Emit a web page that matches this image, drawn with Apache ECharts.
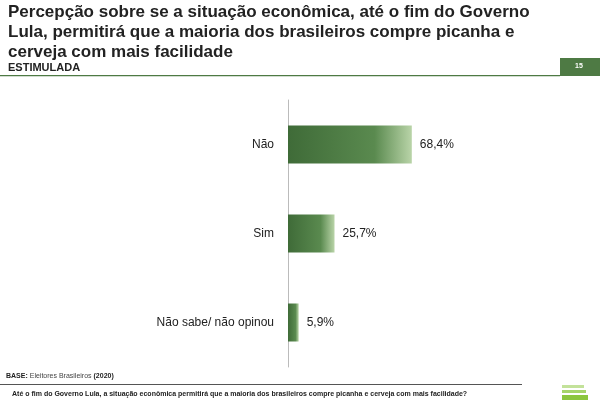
<!DOCTYPE html>
<html><head><meta charset="utf-8">
<script src="https://cdn.jsdelivr.net/npm/echarts@6/dist/echarts.min.js"></script>
<style>html,body{margin:0;padding:0;background:#fff}#c{width:600px;height:400px}</style>
</head><body><div id="c"></div>
<script>
const categories = ['Não sabe/ não opinou', 'Sim', 'Não'];
const values = [5.9, 25.7, 68.4];
const labels = ['5,9%', '25,7%', '68,4%'];
const chart = echarts.init(document.getElementById('c'));
const F = 'Liberation Sans, Arial, sans-serif';
chart.setOption({
  animation: false,
  grid: { left: 288, right: 131, top: 100, bottom: 33 },
  xAxis: { type: 'value', min: 0, max: 100, show: false },
  yAxis: { type: 'category', data: categories,
    axisLine: { lineStyle: { color: '#bbb' } }, axisTick: { show: false },
    axisLabel: { color: '#222', fontSize: 12, fontFamily: F, margin: 14 } },
  series: [{ type: 'bar', data: values, barWidth: 38,
    itemStyle: { color: new echarts.graphic.LinearGradient(0, 0, 1, 0, [
      { offset: 0, color: '#3f6b38' }, { offset: 0.7, color: '#5a8a4f' }, { offset: 1, color: '#b9d4a8' }]) },
    label: { show: true, position: 'right', color: '#222', fontSize: 12, fontFamily: F, distance: 8,
      formatter: p => labels[p.dataIndex] } }],
  graphic: [
    { type: 'text', left: 8, top: 2, style: { text: 'Percepção sobre se a situação econômica, até o fim do Governo\nLula, permitirá que a maioria dos brasileiros compre picanha e\ncerveja com mais facilidade', font: 'bold 17px ' + F, fill: '#222', lineHeight: 20 } },
    { type: 'text', left: 8, top: 62, style: { text: 'ESTIMULADA', font: 'bold 11px ' + F, fill: '#222' } },
    { type: 'rect', shape: { x: 0, y: 75, width: 560, height: 1.2 }, style: { fill: '#4e7a44' } },
    { type: 'rect', shape: { x: 560, y: 58, width: 40, height: 18 }, style: { fill: '#4e7a44' } },
    { type: 'text', left: 575, top: 63, style: { text: '15', font: 'bold 7px ' + F, fill: '#fff' } },
    { type: 'text', left: 6, top: 373, style: { text: '{b|BASE:} Eleitores Brasileiros {b|(2020)}', font: '7px ' + F, fill: '#444', rich: { b: { fontWeight: 'bold', fontSize: 7, fill: '#222' } } } },
    { type: 'rect', shape: { x: 0, y: 384, width: 522, height: 1 }, style: { fill: '#555' } },
    { type: 'text', left: 12, top: 391, style: { text: 'Até o fim do Governo Lula, a situação econômica permitirá que a maioria dos brasileiros compre picanha e cerveja com mais facilidade?', font: 'bold 7px ' + F, fill: '#222' } },
    { type: 'rect', shape: { x: 562, y: 385, width: 22, height: 3 }, style: { fill: '#c3e29a' } },
    { type: 'rect', shape: { x: 562, y: 390, width: 24, height: 3 }, style: { fill: '#a6d46a' } },
    { type: 'rect', shape: { x: 562, y: 395, width: 26, height: 5 }, style: { fill: '#8cc63f' } }
  ]
});
</script></body></html>
